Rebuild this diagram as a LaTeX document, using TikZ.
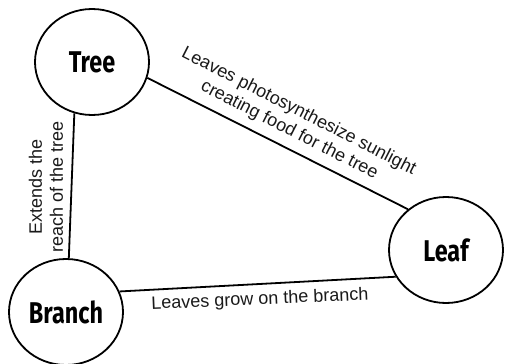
\documentclass[tikz,border=0pt]{standalone}
\usepackage{fontspec}
\usepackage{graphicx}
\setmainfont{Liberation Sans}
\newfontfamily\conceptfont{Fira Sans}
\usetikzlibrary{shapes.geometric}
\tikzset{
  concept/.style={ellipse, draw=black, line width=1.8pt, fill=white,
    minimum width=114pt, minimum height=106pt, inner sep=0pt,
    font=\conceptfont\bfseries\fontsize{30}{30}\selectfont},
  link/.style={draw=black, line width=1.8pt},
  linklabel/.style={font=\fontsize{18}{21}\selectfont, align=center, inner sep=0pt, text=black!90}
}
\newcommand{\cname}[1]{\scalebox{0.78}[1]{#1}}
\begin{document}
\begin{tikzpicture}[x=1pt,y=-1pt]
\useasboundingbox (0,0) rectangle (506,364);
\node[concept] (tree) at (92,62) {\cname{Tree}};
\node[concept] (branch) at (66,312) {\cname{Branch}};
\node[concept] (leaf) at (446,250) {\cname{Leaf}};
\draw[link] (tree.251) -- (branch.87);
\draw[link] (tree.344) -- (leaf.133);
\draw[link] (branch.21) -- (leaf.208);
\node[linklabel, rotate=-27] (l1) at (294,121) {Leaves photosynthesize sunlight\\creating food for the tree};
\node[linklabel, rotate=90] (l2) at (46,187) {Extends the\\reach of the tree};
\node[linklabel, rotate=2.5] (l3) at (260,300) {Leaves grow on the branch};
\end{tikzpicture}
\end{document}
